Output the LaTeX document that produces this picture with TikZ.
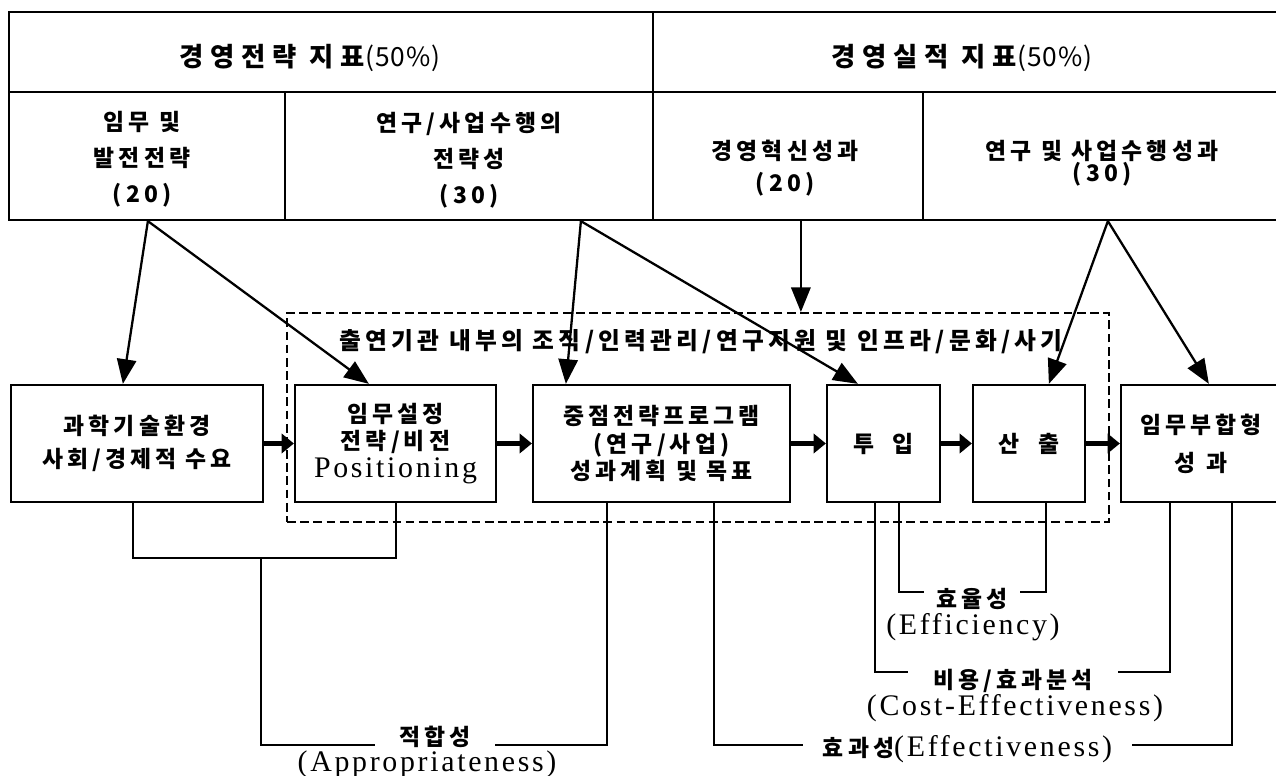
\documentclass[tikz,border=0pt]{standalone}
\usepackage{fontspec}
\usetikzlibrary{arrows.meta,calc}
\newfontfamily\krfam[LetterSpace=18]{Noto Sans CJK KR}
\newfontfamily\krwide[LetterSpace=26]{Noto Sans CJK KR}
\newfontfamily\krtight[LetterSpace=4]{Noto Sans CJK KR}
\newfontfamily\latfam[LetterSpace=9]{Liberation Serif}
\newcommand{\kf}{\krfam\bfseries\fontsize{13}{15.5}\selectfont}
\newcommand{\hf}{\krwide\bfseries\fontsize{15}{17}\selectfont}
\newcommand{\nf}{\krtight\mdseries\fontsize{15}{17}\selectfont}
\newcommand{\lf}{\latfam\mdseries\fontsize{17}{18}\selectfont}
\begin{document}
\begin{tikzpicture}[x=0.02cm,y=-0.02cm,
  cell/.style={draw,line width=1.3pt,inner sep=0pt},
  box/.style={draw,line width=1.3pt,inner sep=0pt,align=center,font=\kf,minimum height=2.34cm},
  txt/.style={inner sep=0pt,align=center,font=\kf},
  ltxt/.style={inner sep=0pt,align=center,font=\lf},
  lbl/.style={inner sep=0pt,align=center,font=\kf},
  conn/.style={line width=1.1pt},
  arr/.style={line width=1.3pt,-{Triangle[length=14pt,width=11pt]}},
  blk/.style={line width=3pt,-{Triangle[length=7pt,width=11pt]}},
  dbx/.style={draw,line width=1.1pt,dash pattern=on 5pt off 2.5pt,inner sep=0pt}]
\useasboundingbox (0,0) rectangle (1276,776);
\fill[white] (0,0) rectangle (1276,776);
\clip (0,0) rectangle (1276,776);
% table
\node[cell,minimum width=12.88cm,minimum height=1.6cm] (h1) at (331,52) {};
\node[cell,minimum width=12.56cm,minimum height=1.6cm] (h2) at (967,52) {};
\node[cell,minimum width=5.52cm,minimum height=2.56cm] (c1) at (147,156) {};
\node[cell,minimum width=7.36cm,minimum height=2.56cm] (c2) at (469,156) {};
\node[cell,minimum width=5.4cm,minimum height=2.56cm] (c3) at (788,156) {};
\node[cell,minimum width=7.16cm,minimum height=2.56cm] (c4) at (1102,156) {};
\node[txt,font=\hf] (th1) at (310,58) {경영전략 지표{\nf(50\%)}};
\node[txt,font=\hf] (th2) at (962,58) {경영실적 지표{\nf(50\%)}};
\node[txt] (t1) at (142,159) {임무 및\\[5pt]발전전략\\[5pt](20)};
\node[txt] (t2) at (469,160) {연구/사업수행의\\[5pt]전략성\\[5pt](30)};
\node[txt] (t3) at (785,168) {경영혁신성과\\[3pt](20)};
\node[txt] (t4) at (1102,163) {연구 및 사업수행성과\\[-3pt](30)};
% dashed box
\node[dbx,minimum width=16.44cm,minimum height=4.18cm] (dbox) at (698,417.5) {};
\node[txt,font=\kf\fontsize{13.5}{16}\selectfont] (lab) at (701,342) {출연기관 내부의 조직/인력관리/연구지원 및 인프라/문화/사기};
% boxes
\node[box,minimum width=5.04cm] (b1) at (137,443.5) {과학기술환경\\[3.5pt]사회/경제적 수요};
\node[box,minimum width=4.02cm] (b2) at (395.5,443.5) {임무설정\\전략/비전\\{\lf Positioning}};
\node[box,minimum width=5.14cm] (b3) at (661.5,443.5) {중점전략프로그램\\(연구/사업)\\성과계획 및 목표};
\node[box,minimum width=2.26cm] (b4) at (883.5,443.5) {투\hspace{0.8em}입};
\node[box,minimum width=2.24cm] (b5) at (1029,443.5) {산\hspace{0.8em}출};
\node[box,minimum width=3.2cm] (b6) at (1201,443.5) {임무부합형\\[6pt]성\hspace{0.5em}과};
% arrows from table
\coordinate (o1) at ($(c1.south west)+(140,0)$);
\coordinate (o2) at ($(c2.south west)+(297,0)$);
\coordinate (o3) at ($(c3.south west)+(149,0)$);
\coordinate (o4) at ($(c4.south west)+(186,0)$);
\draw[arr] (o1) -- ($(b1.north west)+(113,0)$);
\draw[arr] (o1) -- ($(b2.north west)+(75,0)$);
\draw[arr] (o2) -- ($(b3.north west)+(34,0)$);
\draw[arr] (o2) -- ($(b4.north west)+(32,0)$);
\draw[arr] (o3) -- (o3 |- dbox.north);
\draw[arr] (o4) -- ($(b5.north west)+(77,0)$);
\draw[arr] (o4) -- ($(b6.north west)+(89,0)$);
% block arrows
\draw[blk] (b1.east) -- (b2.west);
\draw[blk] (b2.east) -- (b3.west);
\draw[blk] (b3.east) -- (b4.west);
\draw[blk] (b4.east) -- (b5.west);
\draw[blk] (b5.east) -- (b6.west);
% appropriateness
\coordinate (j1) at (261,558);
\draw[conn] ($(b1.south west)+(123,0)$) |- (j1) -| ($(b2.south west)+(102,0)$);
\node[lbl,minimum width=2.4cm] (appr) at (435,737) {적합성};
\node[ltxt] (apprE) at (427,764) {(Appropriateness)};
\draw[conn] (j1) |- ($(appr.west)+(0,8)$);
\draw[conn] ($(appr.east)+(0,8)$) -| ($(b3.south west)+(75,0)$);
% efficiency
\node[lbl,minimum width=1.92cm] (eff) at (972,599) {효율성};
\draw[conn] ($(b4.south west)+(73,0)$) |- ($(eff.west)+(0,-7)$);
\draw[conn] ($(eff.east)+(0,-7)$) -| ($(b5.south west)+(74,0)$);
\node[ltxt] (effE) at (973,627) {(Efficiency)};
% cost-effectiveness
\node[lbl,minimum width=4.2cm] (cost) at (1013,681) {비용/효과분석};
\draw[conn] ($(b4.south west)+(49,0)$) |- ($(cost.west)+(0,-9)$);
\draw[conn] ($(cost.east)+(0,-9)$) -| ($(b6.south west)+(50,0)$);
\node[ltxt] (costE) at (1015,708) {(Cost-Effectiveness)};
% effectiveness
\node[lbl,minimum width=6.58cm] (effv) at (967.5,749) {효과성{\lf (Effectiveness)}};
\draw[conn] ($(b3.south west)+(182,0)$) |- ($(effv.west)+(0,-4)$);
\draw[conn] ($(effv.east)+(0,-4)$) -| ($(b6.south west)+(112,0)$);
\end{tikzpicture}
\end{document}
